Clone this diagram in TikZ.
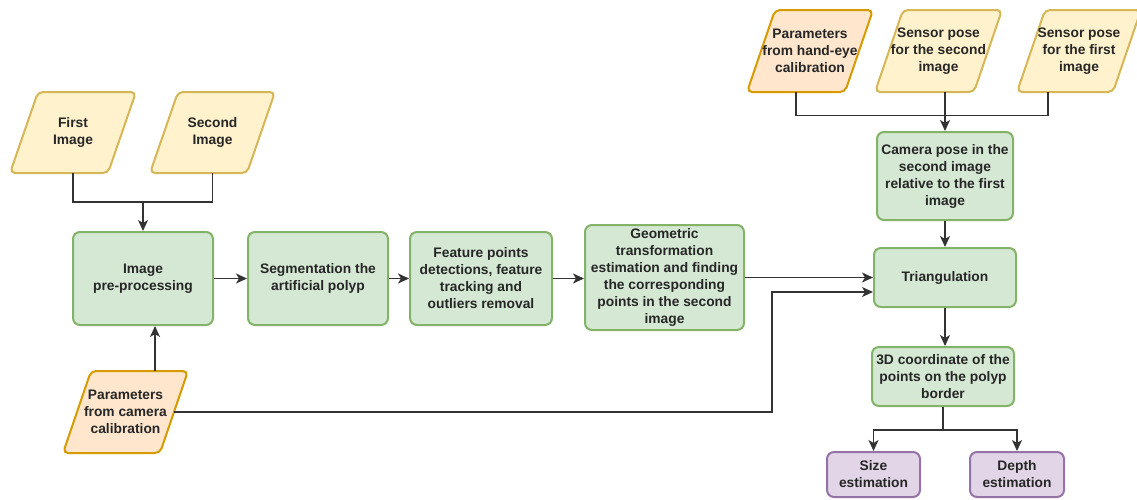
\documentclass[tikz,border=0pt]{standalone}
\usepackage{fontspec}
\setmainfont{Liberation Sans}
\usetikzlibrary{arrows.meta,calc}
\definecolor{gfill}{HTML}{D5E8D4}\definecolor{gline}{HTML}{82B366}
\definecolor{yfill}{HTML}{FFF2CC}\definecolor{yline}{HTML}{D6B656}
\definecolor{ofill}{HTML}{FFE6CC}\definecolor{oline}{HTML}{D79B00}
\definecolor{pfill}{HTML}{E1D5E7}\definecolor{pline}{HTML}{9673A6}
\definecolor{conn}{HTML}{333333}
\definecolor{txtc}{HTML}{262626}
% #1 style, #2 name, #3 cx, #4 cy, #5 w, #6 h, #7 text
\newcommand\paranode[7]{%
  \draw[#1] (#3-#5/2,#4+#6/2) -- (#3-#5/2+28,#4-#6/2) -- (#3+#5/2,#4-#6/2) -- (#3+#5/2-28,#4+#6/2) -- cycle;
  \node[txt,minimum width=#5pt-28pt,minimum height=#6pt] (#2) at (#3,#4) {#7};
}
\begin{document}
\begin{tikzpicture}[x=1pt,y=-1pt,
  txt/.style={font=\fontsize{13.8}{17}\selectfont\bfseries, text=txtc, align=center, inner sep=0pt},
  gbox/.style={txt, draw=gline, fill=gfill, line width=2pt, rounded corners=7pt},
  pbox/.style={txt, draw=pline, fill=pfill, line width=2pt, rounded corners=7pt},
  ypar/.style={draw=yline, fill=yfill, line width=2pt, rounded corners=5pt},
  opar/.style={draw=oline, fill=ofill, line width=2pt, rounded corners=5pt},
  link/.style={draw=conn, line width=1.4pt},
  arr/.style={link, -{Stealth[length=11pt,width=10pt,inset=3pt]}}]
\useasboundingbox (0,0) rectangle (1137,499);

% input parallelograms
\paranode{ypar}{first}{73}{132.5}{126}{81}{First\\Image}
\paranode{ypar}{second}{212.5}{132.5}{125}{81}{Second\\Image}
\paranode{opar}{camcal}{125.5}{412}{125}{82}{Parameters\\from camera\\calibration}
\paranode{opar}{handeye}{810}{51}{126}{82}{Parameters\\from hand-eye\\calibration}
\paranode{ypar}{sensor2}{938.5}{51}{127}{82}{Sensor pose\\for the second\\image}
\paranode{ypar}{sensor1}{1079}{51}{124}{82}{Sensor pose\\for the first\\image}

% process boxes
\node[gbox, minimum width=140pt, minimum height=93pt] (pre) at (143,278.5) {Image\\pre-processing};
\node[gbox, minimum width=140pt, minimum height=93pt] (seg) at (318,278.5) {Segmentation the\\artificial polyp};
\node[gbox, minimum width=142pt, minimum height=93pt] (feat) at (481,278.5) {Feature points\\detections, feature\\tracking and\\outliers removal};
\node[gbox, minimum width=159pt, minimum height=105pt] (geo) at (664.5,277.5) {Geometric\\transformation\\estimation and finding\\the corresponding\\points in the second\\image};
\node[gbox, minimum width=136pt, minimum height=88pt] (cam) at (945,176) {Camera pose in the\\second image\\relative to the first\\image};
\node[gbox, minimum width=142pt, minimum height=59pt] (tri) at (945,277.5) {Triangulation};
\node[gbox, minimum width=142pt, minimum height=59pt] (coord) at (943,376.5) {3D coordinate of the\\points on the polyp\\border};
\node[pbox, minimum width=93pt, minimum height=45pt] (size) at (873.5,474.5) {Size\\estimation};
\node[pbox, minimum width=94pt, minimum height=45pt] (depth) at (1017,474.5) {Depth\\estimation};

% connector helper points
\coordinate (j1) at (143,202);
\coordinate (c2) at (772,292);
\coordinate (camup) at ($(camcal.north)+(29.5,0)$);
\coordinate (hedrop) at ($(handeye.south)+(-14,0)$);
\coordinate (s1drop) at ($(sensor1.south)+(-31,0)$);
\coordinate (s1bend) at ($(sensor1.south)+(-31,23)$);
\coordinate (s2drop) at ($(sensor2.south)+(6.5,0)$);

% connectors
\draw[link] (first.south) |- (j1) -| (second.south);
\draw[arr] (j1) -- (pre.north);
\draw[arr] (pre.east) -- (seg.west);
\draw[arr] (seg.east) -- (feat.west);
\draw[arr] (feat.east) -- (geo.west |- feat.east);
\draw[arr] (geo.east) -- (tri.west);
\draw[arr] (camcal.east) -| (c2) -- (c2 -| tri.west);
\draw[arr] (camup) -- (camup |- pre.south);
\draw[link] (hedrop) |- (s1bend) -- (s1drop);
\draw[arr] (s2drop) -- (s2drop |- cam.north);
\draw[arr] (cam.south) -- (tri.north);
\draw[arr] (tri.south) -- (tri.south |- coord.north);
\draw[link] (coord.south) -- ++(0,23) coordinate (j3);
\draw[arr] (j3) -| (size.north);
\draw[arr] (j3) -| (depth.north);
\end{tikzpicture}
\end{document}
